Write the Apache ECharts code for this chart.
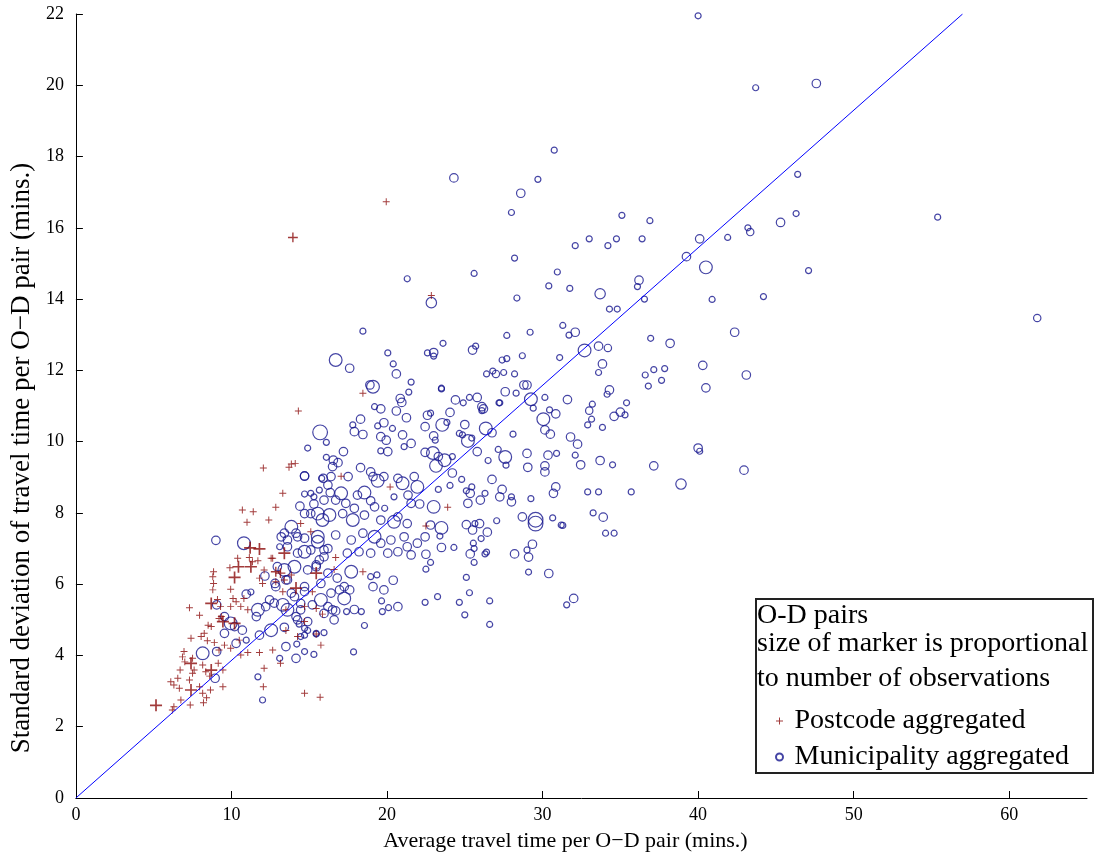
<!DOCTYPE html>
<html>
<head>
<meta charset="utf-8">
<script src="https://cdn.jsdelivr.net/npm/echarts@6/dist/echarts.min.js"></script>
<style>
  html, body { margin: 0; padding: 0; background: #fff; }
  #main { width: 1094px; height: 858px; }
</style>
</head>
<body>
<div id="main"></div>
<script>
// [average travel time, std deviation, observations]
var postcodePts = [
  [19.95,16.73,10],[13.95,15.73,20],[22.85,14.1,10],[18.45,11.36,10],[14.3,10.86,10],[12.05,9.26,10],
  [14.1,9.39,10],[13.85,9.37,10],[13.7,9.28,10],[17.05,9.03,10],[20.2,8.73,10],[13.3,8.55,10],
  [12.85,8.16,10],[23.9,8.16,10],[22.5,7.63,10],[14.45,7.7,10],[15.1,7.47,10],[13.4,6.87,30],
  [16.7,6.75,10],[12.65,6.73,10],[12.85,6.35,20],[13.15,6.31,20],[13.85,6.26,10],[13.4,6.12,10],
  [12.85,6.07,10],[13.3,5.79,10],[14.15,5.89,30],[15.2,5.79,10],[15.45,6.31,30],[16.6,6.41,10],
  [18.45,6.35,10],[15.85,5.16,10],[15.45,4.6,10],[15.75,4.29,10],[14.7,4.95,10],[13.5,4.7,10],
  [14.25,4.53,10],[12.65,4.15,10],[13.15,3.78,10],[14.7,2.94,10],[15.7,2.83,10],[14.7,5.37,10],
  [13.5,5.28,10],[10.7,8.08,10],[11.4,8.03,10],[11.0,7.74,10],[12.4,7.8,10],[11.2,7.02,30],
  [11.8,6.99,30],[10.4,6.73,10],[11.15,6.75,10],[11.35,6.63,10],[11.7,6.66,10],[12.55,6.73,10],
  [9.9,6.46,10],[10.45,6.49,30],[11.25,6.49,30],[12.1,6.4,10],[8.85,6.35,10],[8.8,6.21,10],
  [10.2,6.19,30],[8.85,6.02,10],[9.95,5.86,10],[11.8,6.17,10],[12.0,6.02,10],[9.1,5.57,10],
  [8.7,5.46,30],[7.3,5.34,10],[7.95,5.13,10],[9.3,5.37,10],[9.35,5.09,10],[9.95,5.37,10],
  [10.3,5.51,10],[10.6,5.37,10],[11.05,5.28,10],[10.8,5.6,10],[10.1,5.6,10],[9.2,5.04,10],
  [9.45,4.95,30],[10.2,4.9,30],[8.7,4.81,10],[8.5,4.85,10],[8.25,4.62,10],[8.05,4.53,10],
  [7.4,4.48,10],[8.45,4.41,10],[8.9,4.36,10],[9.55,4.29,10],[9.95,4.2,10],[10.5,4.43,10],
  [9.2,4.15,10],[10.6,4.01,10],[11.05,4.08,10],[11.8,4.08,10],[6.95,4.11,10],[6.85,3.96,10],
  [7.0,3.82,10],[7.5,3.92,10],[7.4,3.78,30],[7.6,3.59,10],[7.5,3.5,10],[6.7,3.59,10],
  [8.15,3.73,10],[8.35,3.54,10],[8.7,3.59,30],[8.6,3.42,10],[9.15,3.78,10],[9.45,3.59,10],
  [6.1,3.26,10],[6.3,3.17,10],[6.55,3.36,10],[6.65,3.08,10],[7.3,3.31,10],[7.4,3.03,30],
  [7.95,3.12,10],[8.15,2.94,10],[8.65,3.03,10],[9.45,3.12,10],[8.4,2.81,10],[8.2,2.67,10],
  [6.75,2.75,10],[6.3,2.56,10],[6.2,2.47,10],[5.15,2.6,30],[7.35,2.61,10],[12.1,3.64,10],
  [12.05,3.12,10],[15.45,5.32,10],[8.8,5.84,10]
];

var municipalityPts = [
  // sparse upper / right
  [40.0,21.95,10],[43.7,19.93,10],[47.6,20.05,20],[46.4,17.5,10],[55.4,16.3,10],[46.3,16.4,10],
  [45.3,16.15,20],[43.2,16.0,10],[43.35,15.88,15],[41.9,15.73,10],[40.1,15.69,20],[39.25,15.19,20],
  [40.5,14.89,45],[47.1,14.8,10],[44.2,14.07,10],[40.9,13.99,10],[36.2,14.53,20],[36.1,14.35,10],
  [33.7,14.15,30],[35.1,16.35,10],[36.9,16.2,10],[33.0,15.69,10],[34.75,15.69,10],[34.2,15.5,10],
  [36.4,15.69,10],[36.55,14.0,10],[61.8,13.47,15],[30.75,18.18,10],[32.1,15.5,10],
  [34.3,13.72,10],[34.8,13.72,10],[31.3,13.26,10],[32.1,13.07,20],[31.7,12.99,10],[32.7,12.56,45],
  [33.6,12.68,20],[34.2,12.63,15],[36.95,12.9,10],[38.2,12.76,20],[42.35,13.07,20],[33.85,12.18,20],
  [33.6,11.94,10],[40.3,12.14,20],[43.1,11.87,20],[36.6,11.87,10],[37.15,12.02,10],[37.85,12.05,10],
  [36.8,11.56,10],[37.65,11.72,10],[40.5,11.51,20],[31.6,11.18,20],[34.3,11.45,20],[34.15,11.33,10],
  [35.4,11.09,10],[33.2,11.05,10],[33.0,10.87,15],[33.15,10.63,10],[32.9,10.47,10],[33.85,10.4,10],
  [34.6,10.71,20],[35.0,10.83,20],[35.3,10.75,10],[31.8,10.13,20],[32.25,9.93,20],[32.1,9.62,10],
  [32.45,9.35,20],[33.7,9.47,20],[34.5,9.35,10],[40.0,9.82,20],[40.1,9.73,10],[37.15,9.32,20],
  [42.95,9.2,20],[38.9,8.81,30],[32.9,8.59,10],[33.6,8.59,10],[35.7,8.59,10],[33.25,8.0,10],
  [33.9,7.88,20],[31.3,7.65,10],[34.05,7.43,10],[34.6,7.43,10],
  // lower right
  [23.5,7.03,20],[22.5,6.84,20],[22.8,6.61,10],[22.5,6.42,10],[25.55,7.15,10],[25.6,7.0,10],
  [25.35,6.85,20],[26.3,6.85,10],[26.4,6.9,10],[25.6,6.61,10],[28.2,6.85,20],[29.0,6.96,10],
  [29.35,7.12,20],[29.1,6.76,20],[29.1,6.34,10],[30.4,6.3,20],[25.1,6.19,10],[23.25,5.65,10],
  [22.45,5.49,10],[24.65,5.49,10],[25.3,5.76,10],[26.6,5.53,10],[25.0,5.14,10],[26.6,4.87,10],
  [32.0,5.6,20],[31.55,5.42,10],
  // 26 - 31 band
  [30.95,14.76,10],[30.4,14.37,10],[31.75,14.3,10],[28.35,14.03,10],[29.2,13.07,10],[27.7,12.98,10],
  [28.7,12.41,10],[27.4,12.29,10],[27.7,12.33,10],[31.1,12.36,10],[26.4,11.9,10],[26.8,11.98,10],
  [27.0,11.9,15],[27.5,11.94,10],[28.2,11.9,10],[28.8,11.59,20],[29.0,11.59,20],[27.6,11.4,20],
  [28.3,11.36,10],[29.25,11.19,45],[30.15,11.24,10],[26.2,10.92,20],[27.2,11.09,10],[29.4,10.94,10],
  [30.05,10.63,45],[30.45,10.89,10],[30.85,10.78,20],[30.15,10.33,20],[30.5,10.21,20],[28.1,10.21,10],
  [26.35,10.37,45],[26.75,10.25,20],
  // 22 - 31 middle
  [23.5,11.48,10],[24.4,11.17,20],[24.9,11.09,10],[25.3,11.24,10],[25.8,11.24,20],[26.1,10.98,20],
  [26.1,10.87,10],[27.25,11.09,10],[22.6,10.74,20],[22.8,10.8,10],[22.45,10.42,20],[23.55,10.47,45],
  [23.85,10.54,10],[24.05,10.82,20],[23.0,10.16,20],[23.1,10.04,10],[25.0,10.48,20],[24.65,10.23,10],
  [24.85,10.19,10],[25.2,10.02,45],[25.45,10.1,10],[22.45,9.7,20],[22.95,9.68,45],[23.3,9.58,20],
  [23.7,9.48,45],[23.15,9.32,45],[24.2,9.58,10],[24.2,9.12,20],[25.8,9.72,20],[26.5,9.47,10],
  [27.15,9.78,10],[27.6,9.57,45],[27.65,9.34,10],[29.0,9.67,20],[29.05,9.28,20],[30.15,9.32,20],
  [30.15,9.15,20],[30.35,9.62,20],[30.9,9.67,10],[24.8,8.94,10],[24.05,8.77,10],[23.3,8.66,10],
  [25.1,8.62,10],[25.45,8.73,10],[25.35,8.55,20],[26.75,8.94,20],[27.4,8.66,20],[27.25,8.45,20],
  [26.3,8.55,10],[26.0,8.36,20],[25.2,8.27,20],[28.0,8.45,10],[28.0,8.31,20],[29.25,8.4,10],
  [30.7,8.55,20],[30.85,8.73,20],[23.0,8.17,45],[23.5,7.58,45],[22.8,7.66,20],[22.45,7.33,20],
  [23.4,7.35,10],[25.1,7.67,20],[25.65,7.7,10],[25.95,7.7,20],[25.5,7.52,20],[26.45,7.46,20],
  [27.05,7.78,10],[26.05,7.28,10],[28.7,7.89,20],[29.55,7.81,60],[29.55,7.7,60],[30.65,7.86,10],
  [31.2,7.66,10],[24.3,7.03,10],
  // upper middle
  [24.3,17.4,20],[28.6,16.97,20],[29.7,17.36,10],[28.0,16.43,10],[28.2,15.15,10],[25.6,14.72,10],
  [21.3,14.57,10],[22.85,13.9,30],[18.45,13.1,10],[23.6,12.76,10],[25.7,12.68,10],[25.5,12.57,20],
  [22.6,12.49,10],[23.0,12.5,20],[23.0,12.4,10],[20.05,12.49,10],[16.7,12.29,45],[17.6,12.06,20],
  [20.4,12.18,10],[20.6,11.9,20],[21.55,11.67,10],[18.9,11.59,20],[19.1,11.54,45],[23.5,11.5,10],
  // dense core 14 - 22
  [19.2,10.98,10],[19.6,10.92,20],[20.85,11.21,20],[20.95,11.1,20],[21.4,11.39,10],[20.6,10.86,20],
  [21.25,10.67,20],[15.7,10.26,60],[16.1,9.98,10],[14.9,9.82,10],[17.8,10.47,10],[18.3,10.63,20],
  [17.9,10.28,20],[18.45,10.2,20],[19.6,10.14,20],[19.95,10.04,20],[19.4,10.44,10],[19.8,10.53,20],
  [20.35,10.37,10],[21.0,10.19,20],[21.55,9.95,20],[21.1,9.86,10],[20.05,9.72,20],[19.6,9.74,10],
  [17.2,9.72,20],[16.55,9.48,20],[16.85,9.41,20],[16.5,9.3,20],[16.1,9.56,10],[14.7,9.03,20],
  [15.8,8.97,10],[16.4,9.02,20],[17.5,9.02,20],[18.3,9.27,20],[18.95,9.15,20],[19.1,9.02,20],
  [19.4,8.9,45],[19.8,9.02,20],[20.7,8.97,20],[21.0,8.83,45],[21.75,9.02,20],[21.95,8.73,45],
  [21.35,8.5,20],[20.45,8.45,10],[21.55,8.27,20],[22.1,8.25,20],[15.1,8.55,10],[15.65,8.64,10],
  [16.35,8.57,20],[17.05,8.55,45],[18.1,8.5,20],[18.55,8.57,45],[18.95,8.34,20],[19.2,8.17,20],
  [19.85,8.13,10],[17.9,8.13,20],[17.35,8.27,20],[16.7,8.36,20],[15.95,8.36,20],[15.3,8.25,20],
  [14.7,7.98,20],[15.55,7.98,45],[16.3,7.94,45],[17.15,7.98,20],[17.8,7.8,45],[18.55,7.94,20],
  [19.6,7.8,20],[20.45,7.75,45],[20.7,7.89,20],[21.3,7.7,20],[13.85,7.61,45],[13.4,7.43,20],
  [13.2,7.33,20],[14.25,7.33,20],[15.55,7.33,45],[16.7,7.38,20],[17.7,7.24,20],[18.45,7.43,20],
  [19.2,7.33,45],[19.6,7.15,20],[20.25,7.24,20],[21.1,7.33,20],[21.95,7.15,20],[13.6,7.05,20],
  [14.7,6.91,45],[15.95,6.96,20],[17.45,6.87,20],[18.2,6.91,20],[18.95,6.87,20],[20.05,6.87,20],
  [20.7,6.91,20],[21.55,6.82,20],
  // lower core 12 - 22
  [12.85,5.93,20],[13.85,5.75,20],[14.7,5.79,20],[14.9,6.4,20],[15.45,6.49,20],[15.65,6.68,20],
  [16.2,6.31,20],[16.8,6.17,20],[17.7,6.35,45],[18.95,6.21,10],[19.35,6.26,10],[19.1,5.93,20],
  [19.8,5.84,20],[20.4,6.11,20],[21.3,7.05,20],[19.65,5.53,10],[20.1,5.34,10],[20.7,5.37,20],
  [19.7,5.23,10],[18.55,4.84,10],[17.85,4.1,10],[17.4,5.23,10],[17.9,5.29,20],[18.35,5.23,10],
  [16.7,5.25,20],[16.5,5.28,20],[16.2,5.37,20],[16.6,5.0,20],[15.95,4.64,10],[15.45,4.6,10],
  [14.7,4.76,10],[14.9,4.7,10],[14.35,4.88,10],[14.7,4.57,10],[13.4,4.79,20],[14.2,4.32,10],
  [13.5,4.25,20],[14.7,4.11,10],[15.3,4.03,10],[14.15,3.92,20],[13.1,3.92,10],[17.25,5.93,20],
  [17.25,5.6,45],[17.6,5.84,20],[16.95,5.84,20],[16.4,5.75,20],[15.75,5.56,45],[15.2,5.42,20],
  [14.45,5.28,20],[14.15,5.09,20],[13.3,5.42,45],[12.75,5.47,20],[12.55,4.71,45],
  // low x
  [9.0,7.23,20],[10.8,7.15,45],[10.95,5.72,20],[11.25,5.78,10],[9.05,5.42,20],[9.55,5.09,20],
  [9.95,4.9,45],[10.2,4.81,20],[9.55,4.62,20],[10.7,4.71,20],[10.3,4.34,20],[10.95,4.43,10],
  [11.7,5.28,45],[11.6,5.09,20],[12.15,6.23,20],[12.8,6.02,20],[11.8,4.57,20],[9.05,4.11,20],
  [8.15,4.06,45],[8.95,3.36,20],[11.7,3.4,10],[12.0,2.75,10],[12.45,5.56,20],[12.2,5.37,20],
  [13.1,7.05,10],[12.95,6.49,20],[13.4,6.4,45],[13.5,6.12,20],
  [14.7,9.04,20],[15.9,8.97,20],[14.7,8.53,10],[15.3,8.45,10],[16.2,8.78,20],[14.4,8.19,20],
  [15.1,7.98,20],[15.85,7.8,45],[13.6,7.24,20],[14.15,7.43,20],[14.7,7.29,20],[15.55,7.19,45],
  [16.2,7.0,20],[14.25,6.87,20],[15.1,6.96,20],[15.95,6.77,20],[14.05,6.49,45],[15.45,6.54,20],
  [13.6,6.12,20],[14.7,5.93,20],[15.75,6.02,20],[14.05,5.65,20],[14.45,5.46,20],[13.6,5.28,45],
  [14.25,5.0,20],[14.9,4.95,20],[15.95,5.18,20],[14.45,4.53,10],[15.45,4.62,10]
];

var refLine = [[0, 0], [57, 22]];
var xTickValues = [0, 10, 20, 30, 40, 50, 60];
var legendLines = ['O-D pairs', 'size of marker is proportional', 'to number of observations'];

var SERIF = 'Liberation Serif';
var plusPath = 'path://M43,0h14v43h43v14h-43v43h-14v-43h-43v-14h43z';

var chartDom = document.getElementById('main');
var myChart = echarts.init(chartDom);

var option = {
  backgroundColor: '#fff',
  animation: false,
  grid: { left: 75, right: 7, top: 14, bottom: 60 },
  xAxis: {
    type: 'value',
    min: 0, max: 65, interval: 10,
    name: 'Average travel time per O\u2212D pair (mins.)',
    nameLocation: 'middle',
    nameGap: 32,
    nameTextStyle: { fontFamily: SERIF, fontSize: 22, color: '#000', padding: [0, 32, 0, 0] },
    axisLine: { lineStyle: { color: '#000', width: 1 } },
    axisTick: { inside: true, length: 7, customValues: xTickValues, lineStyle: { color: '#000' } },
    axisLabel: { customValues: xTickValues, fontFamily: SERIF, fontSize: 18, color: '#000', margin: 8 },
    splitLine: { show: false }
  },
  yAxis: {
    type: 'value',
    min: 0, max: 22, interval: 2,
    name: 'Standard deviation of travel time per O\u2212D pair (mins.)',
    nameLocation: 'middle',
    nameGap: 40,
    nameTextStyle: { fontFamily: SERIF, fontSize: 27, color: '#000', padding: [0, 104, 0, 0] },
    axisLine: { lineStyle: { color: '#000', width: 1 } },
    axisTick: { inside: true, length: 7, lineStyle: { color: '#000' } },
    axisLabel: { fontFamily: SERIF, fontSize: 18, color: '#000', margin: 12 },
    splitLine: { show: false }
  },
  legend: {
    data: ['Postcode aggregated', 'Municipality aggregated'],
    orient: 'vertical',
    left: 770,
    top: 702,
    z: 60,
    itemWidth: 20,
    itemHeight: 7,
    itemGap: 8,
    textStyle: { fontFamily: SERIF, fontSize: 28, color: '#000', lineHeight: 28 }
  },
  graphic: [
    {
      type: 'rect',
      left: 755, top: 598, z: 50,
      shape: { width: 337, height: 174 },
      style: { fill: '#fff', stroke: '#222', lineWidth: 2 }
    },
    {
      type: 'text', left: 757, top: 602, z: 51,
      style: { text: legendLines[0], font: '28px "Liberation Serif"', fill: '#000' }
    },
    {
      type: 'text', left: 757, top: 630, z: 51,
      style: { text: legendLines[1], font: '28px "Liberation Serif"', fill: '#000' }
    },
    {
      type: 'text', left: 757, top: 665, z: 51,
      style: { text: legendLines[2], font: '28px "Liberation Serif"', fill: '#000' }
    }
  ],
  series: [
    {
      name: 'Municipality aggregated',
      type: 'scatter',
      symbol: 'circle',
      symbolSize: function (v) { return Math.sqrt(v[2]) * 1.9; },
      data: municipalityPts,
      itemStyle: { color: 'rgba(0,0,0,0)', borderColor: '#16168f', borderWidth: 1.2 },
      silent: true
    },
    {
      name: 'Postcode aggregated',
      type: 'scatter',
      symbol: plusPath,
      symbolSize: function (v) { return Math.sqrt(v[2]) * 2.2; },
      data: postcodePts,
      itemStyle: { color: '#8b0a0a' },
      silent: true
    },
    {
      name: 'ref',
      type: 'line',
      data: refLine,
      symbol: 'none',
      lineStyle: { color: '#0000ff', width: 1 },
      silent: true
    }
  ]
};

myChart.setOption(option);
</script>
</body>
</html>
